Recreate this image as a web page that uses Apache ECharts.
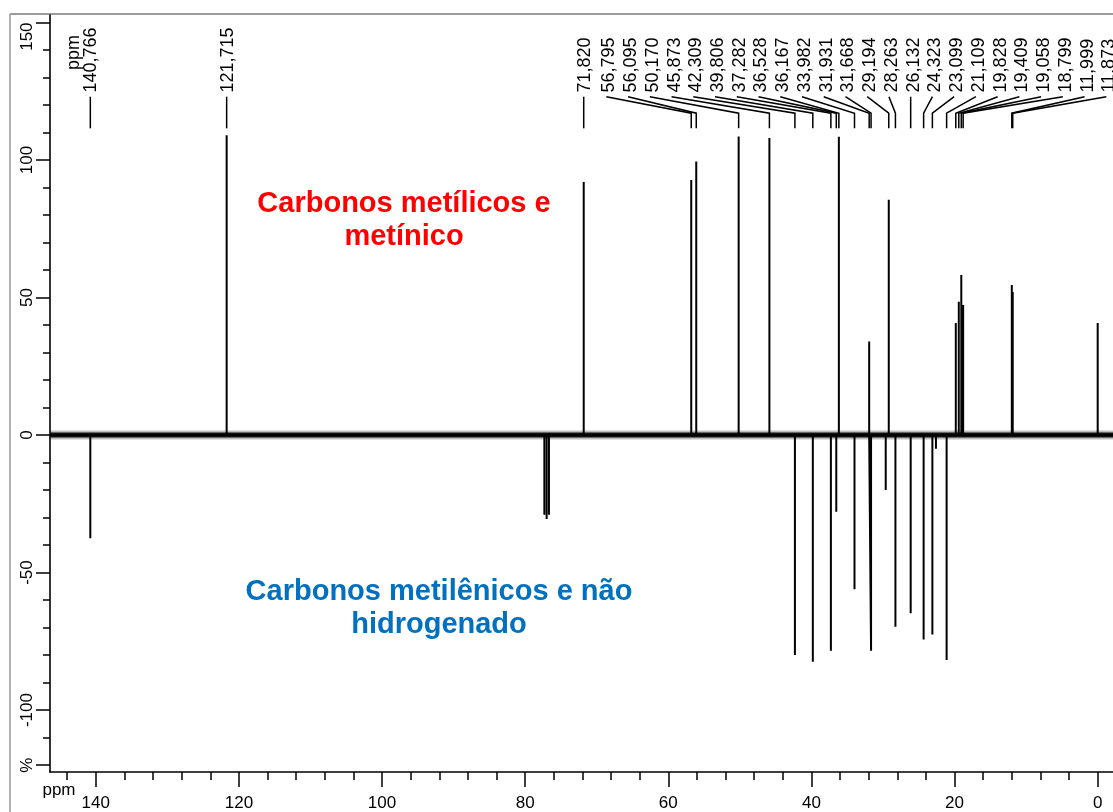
<!DOCTYPE html>
<html>
<head>
<meta charset="utf-8">
<script src="https://cdn.jsdelivr.net/npm/echarts@6/dist/echarts.min.js"></script>
<style>
  html, body { margin: 0; padding: 0; background: #fff; }
  #chart { width: 1113px; height: 812px; }
</style>
</head>
<body>
<div id="chart"></div>
<script>
// APT 13C spectrum: positive signals (CH and CH3), shift in ppm and intensity in %
const upPpm = [121.715, 71.820, 56.795, 56.095, 50.170, 45.873, 36.167, 31.931, 29.194,
               19.828, 19.409, 19.058, 18.799, 11.999, 11.873, 0.000];
const upInt = [109, 92, 92.7, 99.4, 108.5, 108, 108.4, 34, 85.5,
               40.7, 48.5, 58.2, 47.3, 54.5, 52, 40.7];

// Negative signals (CH2 and non-protonated C), including the CDCl3 triplet near 77 ppm
const downPpm = [140.766, 77.32, 77.00, 76.68, 42.309, 39.806, 37.282, 36.528, 33.982,
                 31.668, 29.62, 28.263, 26.132, 24.323, 23.099, 22.60, 21.109];
const downInt = [-37.5, -29, -30.5, -29, -80, -82.4, -78.4, -27.9, -56.1,
                 -78.4, -20, -69.7, -64.8, -74.3, -72.5, -5, -81.8];

// Shifts printed above the spectrum: stand-alone labels and the fanned-out group
const singleLabels = [140.766, 121.715, 71.820];
const groupLabels = [56.795, 56.095, 50.170, 45.873, 42.309, 39.806, 37.282, 36.528, 36.167,
                     33.982, 31.931, 31.668, 29.194, 28.263, 26.132, 24.323, 23.099, 21.109,
                     19.828, 19.409, 19.058, 18.799, 11.999, 11.873];

// Axis ticks
const xMajorTicks = [0, 20, 40, 60, 80, 100, 120, 140];
const xMinorTicks = [0, 4, 8, 12, 16, 20, 24, 28, 32, 36, 40, 44, 48, 52, 56, 60, 64, 68, 72,
                     76, 80, 84, 88, 92, 96, 100, 104, 108, 112, 116, 120, 124, 128, 132, 136,
                     140, 144];
const yMajorTicks = [-120, -100, -50, 0, 50, 100, 150];
const yMinorTicks = [-120, -110, -100, -90, -80, -70, -60, -50, -40, -30, -20, -10, 0, 10, 20,
                     30, 40, 50, 60, 70, 80, 90, 100, 110, 120, 130, 140, 150];

const X_MIN = -2.14, X_MAX = 146.4;
const Y_MIN = -122.5, Y_MAX = 152.7;

// label row geometry, in % units of the intensity axis
const LABEL_TEXT_Y = 124.5, LEADER_TOP = 123, LEADER_KNEE = 117, LEADER_END = 111.5;
// grouped label slots: first slot and spacing, in ppm
const SLOT_FIRST = 68.24, SLOT_STEP = 3.0376;

const FONT = '"Liberation Sans", Arial, Helvetica, sans-serif';

// spectrum trace: baseline with a vertical stick for each signal
const peaks = upPpm.map((p, i) => [p, upInt[i]])
  .concat(downPpm.map((p, i) => [p, downInt[i]]))
  .sort((a, b) => b[0] - a[0]);
const trace = [[X_MAX, 0]];
peaks.forEach(([p, h]) => { trace.push([p, 0], [p, h], [p, 0]); });
trace.push([X_MIN, 0]);

const labelData = singleLabels.map(p => [p, -1])
  .concat(groupLabels.map((p, i) => [p, i]));

const fmt = v => v.toFixed(3).replace('.', ',');

const chart = echarts.init(document.getElementById('chart'), null, { renderer: 'canvas' });

chart.setOption({
  animation: false,
  backgroundColor: '#fff',
  grid: { left: 50, top: 15, right: 0, bottom: 40 },
  xAxis: [
    {
      type: 'value', min: X_MIN, max: X_MAX, inverse: true, position: 'bottom',
      axisLine: { show: true, onZero: false, lineStyle: { color: '#000', width: 1.6 } },
      axisTick: { show: true, customValues: xMajorTicks, length: 15, lineStyle: { color: '#000', width: 1.5 } },
      axisLabel: { customValues: xMajorTicks, margin: 23, fontSize: 17, color: '#000', fontFamily: FONT },
      splitLine: { show: false }
    },
    {
      type: 'value', min: X_MIN, max: X_MAX, inverse: true, position: 'bottom', offset: 0,
      axisLine: { show: false, onZero: false },
      axisTick: { show: true, customValues: xMinorTicks, length: 8, lineStyle: { color: '#000', width: 1.5 } },
      axisLabel: { show: false },
      splitLine: { show: false }
    }
  ],
  yAxis: [
    {
      type: 'value', min: Y_MIN, max: Y_MAX, position: 'left',
      axisLine: { show: true, onZero: false, lineStyle: { color: '#000', width: 1.6 } },
      axisTick: { show: true, customValues: yMajorTicks, length: 14, lineStyle: { color: '#000', width: 1.5 } },
      axisLabel: {
        customValues: yMajorTicks, rotate: 90, margin: 14, fontSize: 17, color: '#000', fontFamily: FONT,
        alignMaxLabel: 'right',
        formatter: v => (v === -120 ? '%' : String(v))
      },
      splitLine: { show: false }
    },
    {
      type: 'value', min: Y_MIN, max: Y_MAX, position: 'left', offset: 0,
      axisLine: { show: false, onZero: false },
      axisTick: { show: true, customValues: yMinorTicks, length: 7, lineStyle: { color: '#000', width: 1.5 } },
      axisLabel: { show: false },
      splitLine: { show: false }
    }
  ],
  series: [
    {
      // noisy baseline band
      type: 'line', xAxisIndex: 0, yAxisIndex: 0, showSymbol: false, silent: true,
      data: [[X_MAX, 0], [X_MIN, 0]],
      lineStyle: { color: 'rgba(0,0,0,0.25)', width: 9 }
    },
    {
      type: 'line', xAxisIndex: 0, yAxisIndex: 0, showSymbol: false, silent: true,
      data: [[X_MAX, 0], [X_MIN, 0]],
      lineStyle: { color: '#111', width: 5 }
    },
    {
      type: 'line', xAxisIndex: 0, yAxisIndex: 0, showSymbol: false, silent: true,
      data: trace,
      lineStyle: { color: '#000', width: 2 }
    },
    {
      // shift labels with leader lines
      type: 'custom', xAxisIndex: 0, yAxisIndex: 0, silent: true, clip: false,
      data: labelData,
      renderItem: function (params, api) {
        const ppm = api.value(0);
        const slot = api.value(1);
        const peakX = api.coord([ppm, 0])[0];
        const yText = api.coord([0, LABEL_TEXT_Y])[1];
        const yTop = api.coord([0, LEADER_TOP])[1];
        const yKnee = api.coord([0, LEADER_KNEE])[1];
        const yEnd = api.coord([0, LEADER_END])[1];
        let textX, points;
        if (slot < 0) {
          textX = peakX + 1;
          points = [[peakX, yTop], [peakX, yEnd]];
        } else {
          textX = api.coord([SLOT_FIRST, 0])[0] + slot * api.size([SLOT_STEP, 0])[0];
          points = [[textX - 3, yTop], [peakX, yKnee], [peakX, yEnd]];
        }
        return {
          type: 'group',
          children: [
            { type: 'polyline', shape: { points: points }, style: { stroke: '#000', lineWidth: 1.5, fill: null } },
            {
              type: 'text', x: textX, y: yText, rotation: Math.PI / 2,
              style: { text: fmt(ppm), fill: '#000', font: '18px ' + FONT, align: 'left', verticalAlign: 'middle' }
            }
          ]
        };
      }
    }
  ],
  graphic: [
    { type: 'line', shape: { x1: 10, y1: 14, x2: 1113, y2: 14 }, style: { stroke: '#7a7a7a', lineWidth: 1.5 } },
    { type: 'line', shape: { x1: 10, y1: 14, x2: 10, y2: 812 }, style: { stroke: '#9a9a9a', lineWidth: 1.5 } },
    {
      type: 'text', x: 74, y: 70, rotation: Math.PI / 2,
      style: { text: 'ppm', fill: '#000', font: '18px ' + FONT, align: 'left', verticalAlign: 'middle' }
    },
    {
      type: 'text', x: 59, y: 790,
      style: { text: 'ppm', fill: '#000', font: '17px ' + FONT, align: 'center', verticalAlign: 'middle' }
    },
    {
      type: 'text', x: 404, y: 220,
      style: {
        text: 'Carbonos metílicos e\nmetínico', fill: '#FF0000', font: 'bold 29px ' + FONT,
        align: 'center', verticalAlign: 'middle', lineHeight: 33
      }
    },
    {
      type: 'text', x: 439, y: 608,
      style: {
        text: 'Carbonos metilênicos e não\nhidrogenado', fill: '#0070C0', font: 'bold 29px ' + FONT,
        align: 'center', verticalAlign: 'middle', lineHeight: 33
      }
    }
  ]
});
</script>
</body>
</html>
